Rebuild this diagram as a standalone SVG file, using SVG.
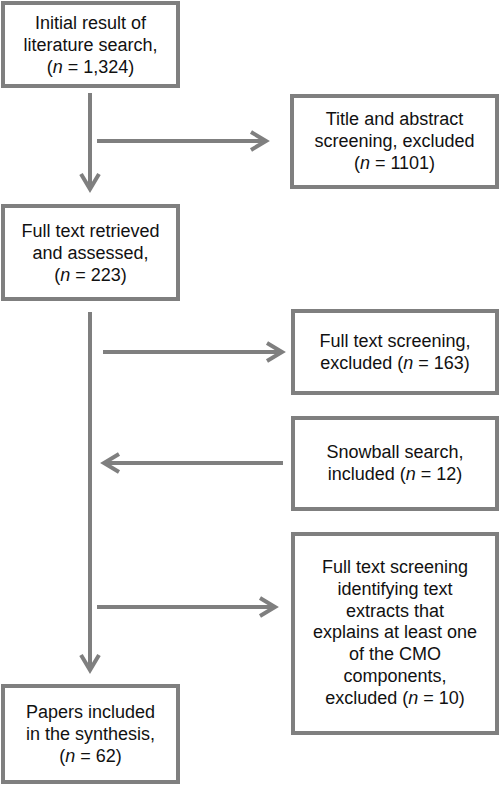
<svg xmlns="http://www.w3.org/2000/svg" width="500" height="785" viewBox="0 0 500 785">
<style>
.box{fill:#fff;stroke:#7f7f7f;stroke-width:4}
.line{fill:none;stroke:#7f7f7f;stroke-width:4}
text{font-family:"Liberation Sans",Arial,Helvetica,sans-serif;font-size:18px;fill:#111;text-anchor:middle}
.i{font-style:italic}
</style>
<defs>
<marker id="ah" markerUnits="userSpaceOnUse" viewBox="0 0 24 24" markerWidth="24" markerHeight="24" refX="20" refY="12" orient="auto">
<path d="M5,3 L20,12 L5,21" fill="none" stroke="#7f7f7f" stroke-width="4"/>
</marker>
</defs>
<rect width="500" height="785" fill="#fff"/>
<g id="connectors">
<line class="line" x1="90" y1="93" x2="90" y2="189" marker-end="url(#ah)"/>
<line class="line" x1="97" y1="141" x2="266" y2="141" marker-end="url(#ah)"/>
<line class="line" x1="90" y1="312" x2="90" y2="670" marker-end="url(#ah)"/>
<line class="line" x1="103" y1="352" x2="282" y2="352" marker-end="url(#ah)"/>
<line class="line" x1="283" y1="463" x2="104" y2="463" marker-end="url(#ah)"/>
<line class="line" x1="97" y1="607" x2="275" y2="607" marker-end="url(#ah)"/>
</g>
<g id="n1">
<rect class="box" x="3" y="3" width="175" height="83"/>
<text x="90.5" y="29">Initial result of</text>
<text x="90.5" y="51">literature search,</text>
<text x="90.5" y="73">(<tspan class="i">n</tspan> = 1,324)</text>
</g>
<g id="n2">
<rect class="box" x="292" y="96" width="205" height="91"/>
<text x="394.5" y="125">Title and abstract</text>
<text x="394.5" y="147">screening, excluded</text>
<text x="394.5" y="169">(<tspan class="i">n</tspan> = 1101)</text>
</g>
<g id="n3">
<rect class="box" x="3" y="206" width="175" height="93"/>
<text x="90.5" y="237">Full text retrieved</text>
<text x="90.5" y="259">and assessed,</text>
<text x="90.5" y="281">(<tspan class="i">n</tspan> = 223)</text>
</g>
<g id="n4">
<rect class="box" x="293" y="311" width="204" height="82"/>
<text x="395" y="347">Full text screening,</text>
<text x="395" y="369">excluded (<tspan class="i">n</tspan> = 163)</text>
</g>
<g id="n5">
<rect class="box" x="293" y="418" width="204" height="91"/>
<text x="395" y="458">Snowball search,</text>
<text x="395" y="480">included (<tspan class="i">n</tspan> = 12)</text>
</g>
<g id="n6">
<rect class="box" x="293" y="534" width="204" height="199"/>
<text x="395" y="573">Full text screening</text>
<text x="395" y="595">identifying text</text>
<text x="395" y="617">extracts that</text>
<text x="395" y="638">explains at least one</text>
<text x="395" y="660">of the CMO</text>
<text x="395" y="682">components,</text>
<text x="395" y="704">excluded (<tspan class="i">n</tspan> = 10)</text>
</g>
<g id="n7">
<rect class="box" x="3" y="686" width="175" height="96"/>
<text x="90.5" y="718">Papers included</text>
<text x="90.5" y="740">in the synthesis,</text>
<text x="90.5" y="762">(<tspan class="i">n</tspan> = 62)</text>
</g>
</svg>
